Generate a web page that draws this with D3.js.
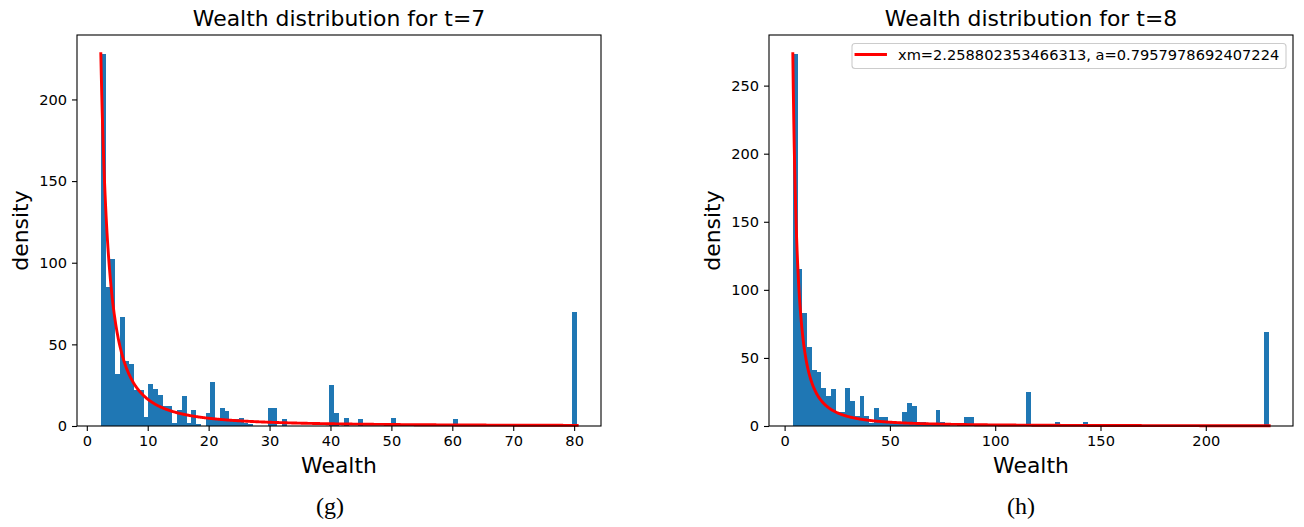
<!DOCTYPE html>
<html>
<head>
<meta charset="utf-8">
<script src="https://cdn.jsdelivr.net/npm/d3@7"></script>
<style>
  body { margin: 0; background: #fff; }
  svg { display: block; font-family: "DejaVu Sans", sans-serif; }
</style>
</head>
<body>
<svg id="chart" width="1304" height="527"></svg>
<script>
// ---- t = 7 : 100 equal-width wealth bins ----
const t7BinStart = 2.3;
const t7BinWidth = 0.782;
const t7Counts = [
  228, 85, 102, 32, 67, 40, 38, 22, 22, 5.5,
  26, 22.5, 19, 12, 12, 2, 10, 18.5, 2, 10,
  1, 0, 8, 27, 5, 11, 9, 4, 4, 5,
  1.7, 1.2, 0, 0, 0, 11, 11, 0, 4, 0,
  0, 0, 0, 0, 0, 0, 0, 0, 25, 8,
  0, 5, 0, 0, 4, 0, 0, 0, 0, 0,
  0, 5, 0, 0, 0, 0, 0, 0, 0, 0,
  0, 0, 0, 0, 4, 0, 0, 0, 0, 0,
  0, 0, 0, 0, 0, 0, 0, 0, 0, 0,
  0, 0, 0, 0, 0, 0, 0, 0, 0, 70
];
// Pareto fit drawn over the histogram (shape a, minimum xm, count scale)
const t7FitXm = 2.3;
const t7FitA = 0.79;
const t7FitScale = 664;
const t7XTicks = [0, 10, 20, 30, 40, 50, 60, 70, 80];
const t7YTicks = [0, 50, 100, 150, 200];

// ---- t = 8 ----
const t8BinStart = 3.9;
const t8BinWidth = 2.262;
const t8Counts = [
  273, 115, 83, 58, 41, 40, 28, 22, 27, 10,
  10, 28, 18, 7, 22, 7, 2.5, 13.5, 6.5, 6.5,
  3.5, 3, 2, 10, 17, 15, 3.3, 3.3, 1, 1,
  11.7, 3, 1, 0, 0, 0, 6.4, 6.4, 0, 0,
  0, 0, 0, 0, 0, 0, 0, 0, 0, 24.7,
  0, 0, 0, 0, 0, 3, 0, 0, 0, 0,
  0, 3.2, 0, 0, 0, 0, 0, 0, 0, 0,
  0, 0, 0, 0, 0, 0, 0, 0, 0, 0,
  0, 0, 0, 0, 0, 0, 0, 0, 0, 0,
  0, 0, 0, 0, 0, 0, 0, 0, 0, 69
];
const t8FitXm = 2.258802353466313;
const t8FitA = 0.7957978692407224;
const t8FitScale = 2070;
const t8XTicks = [0, 50, 100, 150, 200];
const t8YTicks = [0, 50, 100, 150, 200, 250];

const panelTitles = ["Wealth distribution for t=7", "Wealth distribution for t=8"];
const panelTags = ["(g)", "(h)"];
const legendText = "xm=" + t8FitXm + ", a=" + t8FitA;

const BAR = "#1f77b4";
const FIT = "#ff0000";
const svg = d3.select("#chart");

function paretoCurve(xm, a, scale) {
  const c = scale * a * Math.pow(xm, a);
  return x => c / Math.pow(x, a + 1);
}

function drawPanel(opt) {
  const { left, right, top, bottom } = opt.box;
  const bins = opt.counts.map((v, i) => ({
    x0: opt.binStart + i * opt.binWidth,
    x1: opt.binStart + (i + 1) * opt.binWidth,
    v
  }));
  const lo = bins[0].x0, hi = bins[bins.length - 1].x1;
  const pad = 0.05 * (hi - lo);

  const fit = paretoCurve(opt.fit.xm, opt.fit.a, opt.fit.scale);
  const nPts = 1000;
  const fitPts = d3.range(nPts).map(i => {
    const x = lo + (hi - lo) * i / (nPts - 1);
    return [x, fit(x)];
  });

  const yMax = 1.05 * Math.max(d3.max(bins, d => d.v), d3.max(fitPts, d => d[1]));
  const x = d3.scaleLinear().domain([lo - pad, hi + pad]).range([left, right]);
  const y = d3.scaleLinear().domain([0, yMax]).range([bottom, top]);

  const g = svg.append("g");

  // histogram bars
  g.append("g")
    .attr("shape-rendering", "crispEdges")
    .selectAll("rect")
    .data(bins.filter(d => d.v > 0))
    .join("rect")
    .attr("x", d => x(d.x0))
    .attr("width", d => x(d.x1) - x(d.x0))
    .attr("y", d => y(d.v))
    .attr("height", d => y(0) - y(d.v))
    .attr("fill", BAR);

  // fitted curve
  g.append("path")
    .datum(fitPts)
    .attr("fill", "none")
    .attr("stroke", FIT)
    .attr("stroke-width", 2.9)
    .attr("stroke-linejoin", "round")
    .attr("stroke-linecap", "square")
    .attr("d", d3.line().x(d => x(d[0])).y(d => y(d[1])));

  // axes frame
  g.append("rect")
    .attr("x", left).attr("y", top)
    .attr("width", right - left).attr("height", bottom - top)
    .attr("fill", "none").attr("stroke", "#000").attr("stroke-width", 1.1);

  const xAxis = g.append("g")
    .attr("transform", `translate(0,${bottom})`)
    .call(d3.axisBottom(x).tickValues(opt.xTicks).tickFormat(d3.format("d")).tickSize(5).tickPadding(5));
  const yAxis = g.append("g")
    .attr("transform", `translate(${left},0)`)
    .call(d3.axisLeft(y).tickValues(opt.yTicks).tickFormat(d3.format("d")).tickSize(5).tickPadding(5));
  [xAxis, yAxis].forEach(ax => {
    ax.select(".domain").remove();
    ax.selectAll("line").attr("stroke", "#000").attr("stroke-width", 1.1);
    ax.selectAll("text")
      .attr("fill", "#000")
      .style("font-family", '"DejaVu Sans", sans-serif')
      .style("font-size", "14.6px");
  });

  const cx = (left + right) / 2;
  g.append("text")
    .attr("x", cx).attr("y", top - 8.8)
    .attr("text-anchor", "middle")
    .style("font-size", "21.9px")
    .text(opt.title);
  g.append("text")
    .attr("x", cx).attr("y", 473)
    .attr("text-anchor", "middle")
    .style("font-size", "21.9px")
    .text("Wealth");
  g.append("text")
    .attr("transform", `translate(${left - 49},${(top + bottom) / 2}) rotate(-90)`)
    .attr("text-anchor", "middle")
    .style("font-size", "21.9px")
    .text("density");

  g.append("text")
    .attr("x", opt.tagX).attr("y", 514)
    .attr("text-anchor", "middle")
    .style("font-family", '"Liberation Serif", "Times New Roman", serif')
    .style("font-size", "24px")
    .text(opt.tag);

  if (opt.legend) {
    const lg = g.append("g");
    lg.append("rect")
      .attr("x", 852).attr("y", 43.5)
      .attr("width", 434).attr("height", 25)
      .attr("rx", 3)
      .attr("fill", "#fff").attr("fill-opacity", 0.8)
      .attr("stroke", "#cccccc").attr("stroke-width", 1.1);
    lg.append("line")
      .attr("x1", 856).attr("x2", 885.5)
      .attr("y1", 54.5).attr("y2", 54.5)
      .attr("stroke", FIT).attr("stroke-width", 2.9)
      .attr("stroke-linecap", "square");
    lg.append("text")
      .attr("x", 898).attr("y", 60)
      .style("font-size", "14.6px")
      .text(opt.legend);
  }
}

drawPanel({
  box: { left: 77, right: 601, top: 35, bottom: 426 },
  binStart: t7BinStart, binWidth: t7BinWidth, counts: t7Counts,
  fit: { xm: t7FitXm, a: t7FitA, scale: t7FitScale },
  xTicks: t7XTicks, yTicks: t7YTicks,
  title: panelTitles[0], tag: panelTags[0], tagX: 330
});

drawPanel({
  box: { left: 769, right: 1293, top: 35, bottom: 426 },
  binStart: t8BinStart, binWidth: t8BinWidth, counts: t8Counts,
  fit: { xm: t8FitXm, a: t8FitA, scale: t8FitScale },
  xTicks: t8XTicks, yTicks: t8YTicks,
  title: panelTitles[1], tag: panelTags[1], tagX: 1021,
  legend: legendText
});
</script>
</body>
</html>
